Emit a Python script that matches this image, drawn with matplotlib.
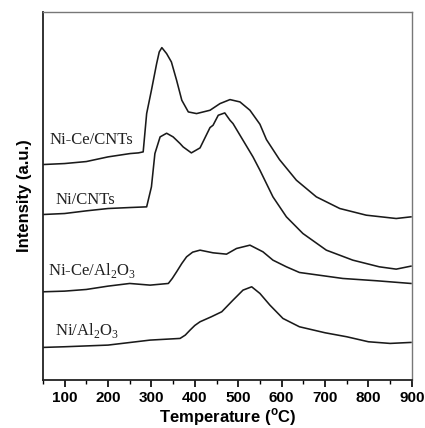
import numpy as np
import matplotlib.pyplot as plt
from matplotlib.ticker import MultipleLocator

# temperature (C) and stacked signal (arbitrary units, offsets included)
t_nice_cnt = [50, 100, 150, 200, 251, 270, 281, 289, 300, 312, 318, 324, 335, 346, 358, 370,
              385, 404, 435, 458, 481, 504, 527, 550, 565, 595, 634, 680, 734, 795, 864, 898]
y_nice_cnt = [647, 650, 656, 670, 680, 682, 685, 800, 870, 950, 985, 998, 980, 955, 900, 840,
              805, 800, 810, 830, 842, 835, 810, 768, 722, 662, 600, 550, 515, 495, 485, 490]

t_ni_cnt = [50, 100, 150, 200, 251, 289, 300, 308, 320, 335, 350, 366, 373, 392, 412, 435, 442,
            454, 469, 481, 488, 511, 534, 550, 580, 611, 649, 703, 764, 825, 864, 898]
y_ni_cnt = [497, 500, 508, 515, 518, 520, 580, 680, 730, 741, 730, 710, 700, 682, 697, 758, 765,
            795, 802, 780, 770, 720, 670, 630, 550, 490, 440, 390, 360, 340, 333, 342]

t_nice_al = [50, 100, 150, 200, 250, 297, 339, 348, 358, 370, 381, 395, 412, 442, 473, 496, 527,
             557, 580, 611, 641, 741, 820, 898]
y_nice_al = [265, 267, 272, 282, 290, 285, 290, 305, 325, 350, 370, 384, 390, 382, 378, 395, 405,
             385, 360, 340, 323, 305, 298, 290]

t_ni_al = [50, 100, 200, 297, 366, 378, 389, 400, 412, 438, 462, 488, 511, 531, 550, 573, 603,
           641, 700, 750, 800, 850, 898]
y_ni_al = [98, 100, 105, 120, 125, 135, 150, 164, 175, 190, 205, 240, 270, 280, 260, 225, 185,
           160, 142, 130, 115, 110, 113]

series = [
    (t_nice_cnt, y_nice_cnt, 'Ni-Ce/CNTs', 66, 720),
    (t_ni_cnt, y_ni_cnt, 'Ni/CNTs', 78, 540),
    (t_nice_al, y_nice_al, r'Ni-Ce/Al$_2$O$_3$', 62, 328),
    (t_ni_al, y_ni_al, r'Ni/Al$_2$O$_3$', 78, 150),
]

plt.rcParams['mathtext.fontset'] = 'custom'
plt.rcParams['mathtext.rm'] = 'Liberation Serif'
plt.rcParams['mathtext.sf'] = 'Liberation Sans:bold'

fig = plt.figure(figsize=(4.25, 4.28), dpi=100)
ax = fig.add_axes([0.101, 0.112, 0.868, 0.860])

for t, y, name, lx, ly in series:
    ax.plot(t, y, color='#1a1a1a', lw=1.15)
    ax.text(lx, ly, name, fontsize=12, family='Liberation Serif', color='#222222',
            ha='left', va='center')

ax.set_xlim(50, 900)
ax.set_ylim(0, 1105)
ax.set_yticks([])
ax.xaxis.set_major_locator(MultipleLocator(100))
ax.xaxis.set_minor_locator(MultipleLocator(50))
ax.tick_params(axis='x', which='major', direction='out', length=5, width=1.2, pad=3)
ax.tick_params(axis='x', which='minor', direction='out', length=3, width=1.0)
for lbl in ax.get_xticklabels():
    lbl.set_fontweight('bold')
    lbl.set_fontfamily('Liberation Sans')
    lbl.set_fontsize(11)

for side in ['left', 'bottom']:
    ax.spines[side].set_linewidth(1.3)
    ax.spines[side].set_color('#222222')
for side in ['top', 'right']:
    ax.spines[side].set_linewidth(1.0)
    ax.spines[side].set_color('#777777')

ax.set_xlabel(r'Temperature ($^{\mathsf{o}}$C)', fontsize=12, fontweight='bold',
              family='Liberation Sans', labelpad=1)
ax.set_ylabel('Intensity (a.u.)', fontsize=12, fontweight='bold',
              family='Liberation Sans', labelpad=8)

fig.savefig('out.png', dpi=100)
